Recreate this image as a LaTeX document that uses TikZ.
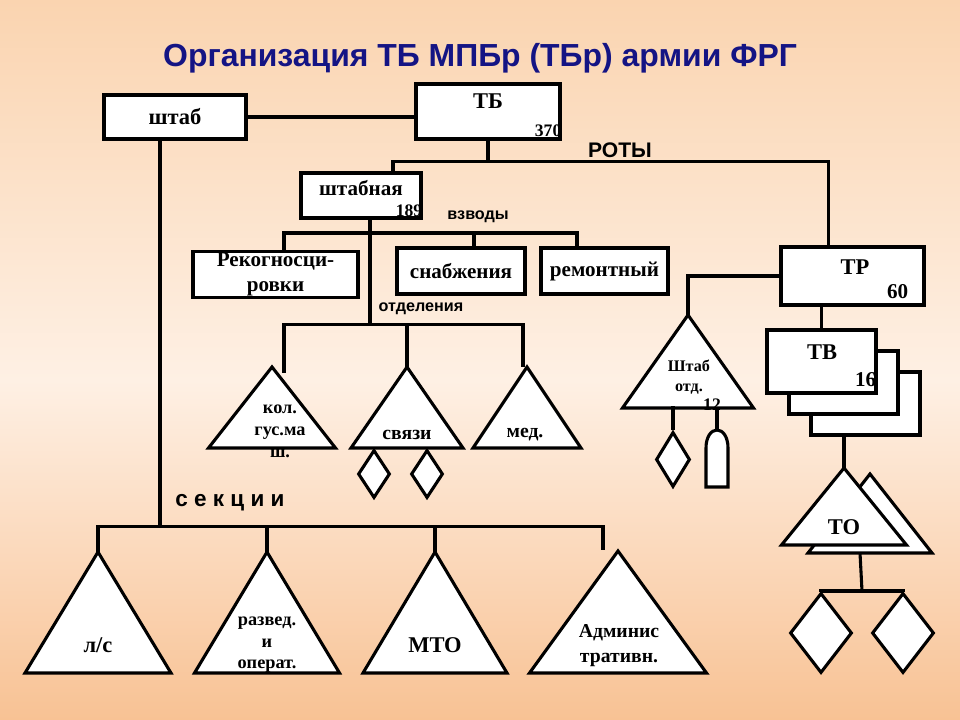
\documentclass[tikz,border=0pt]{standalone}
\usepackage{fontspec}
\setmainfont{Liberation Serif}
\setsansfont{Liberation Sans}
\usetikzlibrary{positioning, calc, shapes.geometric}
\definecolor{titleblue}{RGB}{20,20,132}
\definecolor{bgtop}{RGB}{250,212,176}
\definecolor{bgmid}{RGB}{254,240,228}
\definecolor{bgbot}{RGB}{248,194,148}
\newcommand{\tri}[4]{\coordinate (#1) at (#2);
  \draw[ln, fill=white] (#1) -- ++(-#3,#4) -- ++(2*#3,0) -- cycle;}

\begin{document}
\begin{tikzpicture}[x=0.025cm, y=-0.025cm,
    ln/.style={line width=2.2pt},
    box/.style={draw, fill=white, line width=2.2pt, inner sep=0pt},
    bt/.style={font=\bfseries\fontsize{16}{18}\selectfont, inner sep=0pt},
    st/.style={font=\bfseries\fontsize{14}{17.7}\selectfont, inner sep=0pt, align=center},
    sm/.style={font=\bfseries\fontsize{12.5}{15.4}\selectfont, inner sep=0pt, align=center},
    num/.style={font=\bfseries\fontsize{12.5}{14}\selectfont, inner sep=0pt},
    lab/.style={font=\sffamily\bfseries\fontsize{11.5}{13}\selectfont, inner sep=0pt},
    rh/.style={diamond, draw, fill=white, line width=2.2pt, inner sep=0pt}]
\useasboundingbox (0,0) rectangle (960,720);
\shade[top color=bgtop, bottom color=bgmid] (0,0) rectangle (960,380);
\shade[top color=bgmid, bottom color=bgbot] (0,380) rectangle (960,720);

\node[font=\sffamily\bfseries\fontsize{22.7}{25}\selectfont, text=titleblue] (title) at (480,58) {Организация ТБ МПБр (ТБр) армии ФРГ};

\node[box, bt, minimum width=3.55cm, minimum height=1.1cm] (shtab) at (175,117) {штаб};
\node[box, minimum width=3.6cm, minimum height=1.375cm] (tb) at (488,111.5) {};
\node[bt] (tb-t) at (488,101) {ТБ};
\node[num, anchor=south east] (tb-n) at ($(tb.south east)+(0,-4)$) {370};
\node[box, minimum width=3cm, minimum height=1.125cm] (shtabnaya) at (361,195.5) {};
\node[bt, font=\bfseries\fontsize{15}{17}\selectfont] (shtabnaya-t) at (361,188) {штабная};
\node[num, anchor=south east] (shtabnaya-n) at ($(shtabnaya.south east)+(0,-3)$) {189};
\node[box, st, font=\bfseries\fontsize{15}{17.7}\selectfont, minimum width=4.125cm, minimum height=1.15cm] (rek) at (275.5,274.5) {Рекогносци-\\ровки};
\node[box, st, font=\bfseries\fontsize{15}{17.7}\selectfont, minimum width=3.2cm, minimum height=1.15cm] (snab) at (461,271) {снабжения};
\node[box, st, font=\bfseries\fontsize{15}{17.7}\selectfont, minimum width=3.175cm, minimum height=1.15cm] (rem) at (604.5,271) {ремонтный};
\node[box, minimum width=3.575cm, minimum height=1.45cm] (tr) at (852.5,276) {};
\node[bt] (tr-t) at (855,267) {ТР};
\node[num, font=\bfseries\fontsize{15}{17}\selectfont, anchor=south east] (tr-n) at ($(tr.south east)+(-17,-8)$) {60};
\node[box, minimum width=2.725cm, minimum height=1.575cm] (tv3) at (865.5,403.5) {};
\node[box, minimum width=2.725cm, minimum height=1.575cm] (tv2) at (843.5,382.5) {};
\node[box, minimum width=2.725cm, minimum height=1.575cm] (tv1) at (821.5,361.5) {};
\node[bt] (tv1-t) at (822,352) {ТВ};
\node[num, font=\bfseries\fontsize{15}{17}\selectfont, anchor=south east] (tv1-n) at ($(tv1.south east)+(-1,-8)$) {16};

\node[lab, font=\sffamily\bfseries\fontsize{15}{17}\selectfont] (roty-l) at (620,150) {РОТЫ};
\node[lab] (vzv-l) at (478,217) {взводы};
\node[lab] (otd-l) at (421,309) {отделения};
\node[lab, font=\sffamily\bfseries\fontsize{16}{18}\selectfont] (sek-l) at (230,503) {с е к ц и и};

\draw[ln] (shtab.east) -- (shtab.east -| tb.west);
\draw[ln] (tb.south) -- ++(0,21) coordinate (roty);
\draw[ln] ($(shtabnaya.north)+(32,0)$) |- (roty) -| ($(tr.north)+(-24,0)$);
\draw[ln] ($(shtabnaya.south)+(9,0)$) -- ++(0,105) coordinate (otd);
\coordinate (vz) at (370,233);
\draw[ln] ($(rek.north)+(8.5,0)$) |- (vz) -| ($(rem.north)+(-27.5,0)$);
\draw[ln] ($(snab.north)+(13,0)$) -- ++(0,-15);

\tri{kol}{272,367}{63.5}{81}
\tri{svz}{407,367}{56}{81}
\tri{med}{527,367}{54}{81}
\node[sm, font=\bfseries\fontsize{13}{15.6}\selectfont] (kol-t) at (280,431) {кол.\\гус.ма\\ш.};
\node[st] (svz-t) at (407,435) {связи};
\node[st] (med-t) at (525,435) {мед.};
\draw[ln] ($(kol)+(12,6)$) |- (otd) -| ($(med)+(-4,0)$);
\draw[ln] (svz) -- (svz |- otd);
\node[rh, minimum width=0.8cm, minimum height=1.2cm] (d1) at (374,474) {};
\node[rh, minimum width=0.8cm, minimum height=1.2cm] (d2) at (427,474) {};

\tri{shotd}{688,315}{65.5}{93}
\node[sm, font=\bfseries\fontsize{11.5}{14.2}\selectfont] (shotd-t) at (689,377) {Штаб\\отд.};
\node[num] (shotd-n) at (712,405) {12};
\draw[ln] (tr.west) -| (shotd);
\node[rh, minimum width=0.85cm, minimum height=1.375cm] (d3) at (673,459.5) {};
\draw[ln] (d3.north) -- ++(0,-24);
\coordinate (sn) at (717,430);
\draw[ln, fill=white] (706,487) -- (706,448) .. controls (706,437) and (711,430) .. (sn) .. controls (723,430) and (728,437) .. (728,448) -- (728,487) -- cycle;
\draw[ln] (sn) -- ++(0,-22);

\draw[ln] (tv1.north) -- (tv1.north |- tr.south);
\tri{to2}{870,474}{62}{79}
\tri{to1}{844,468}{62.5}{77}
\node[bt] (to-t) at (844,527) {ТО};
\draw[ln] (to1) -- (to1 |- tv3.south);
\coordinate (toj) at (862,591);
\draw[ln] ($(to2)+(-10,79)$) -- (toj);
\node[rh, minimum width=1.55cm, minimum height=2cm] (d5) at (821,633) {};
\node[rh, minimum width=1.55cm, minimum height=2cm] (d6) at (903,633) {};
\draw[ln] (d5.north) |- (toj) -| (d6.north);

\draw[ln] ($(shtab.south)+(-15,0)$) -- ++(0,386) coordinate (sek);
\tri{ls}{98,552}{73}{121}
\tri{razv}{267,552}{72.5}{121}
\tri{mto}{435,552}{72}{121}
\tri{adm}{618,551}{88.5}{122}
\node[bt] (ls-t) at (98,645) {л/с};
\node[sm, font=\bfseries\fontsize{13}{15.3}\selectfont] (razv-t) at (267,645) {развед.\\и\\операт.};
\node[bt] (mto-t) at (435,645) {МТО};
\node[st] (adm-t) at (619,645.5) {Админис\\тративн.};
\draw[ln] (ls) |- (sek) -| ($(adm)+(-15,-1)$);
\draw[ln] (razv) -- (razv |- sek);
\draw[ln] (mto) -- (mto |- sek);
\end{tikzpicture}
\end{document}
